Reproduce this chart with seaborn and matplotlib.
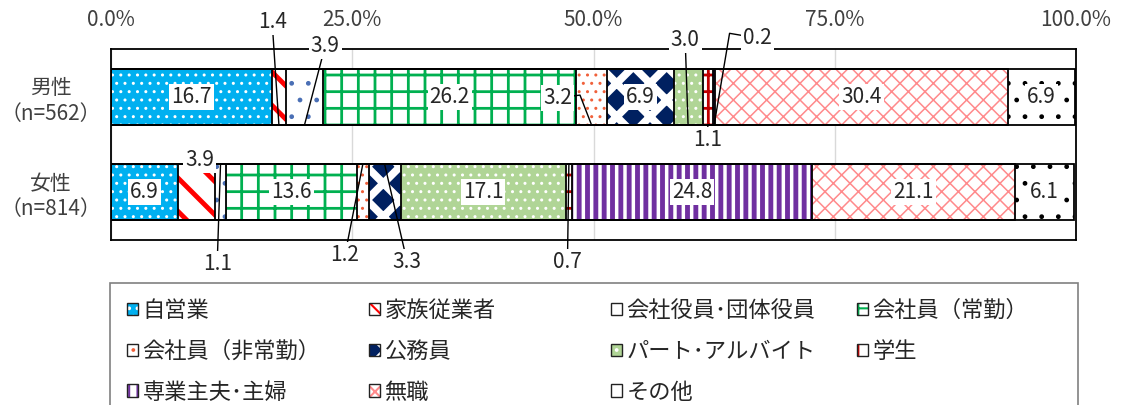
import matplotlib
matplotlib.use('Agg')
import matplotlib.pyplot as plt
import matplotlib.patches as mpatches
import seaborn as sns
import pandas as pd

# ---- data ----
groups = ['男性\n（n=562）', '女性\n（n=814）']
categories = ['自営業', '家族従業者', '会社役員･団体役員', '会社員（常勤）',
              '会社員（非常勤）', '公務員', 'パート･アルバイト', '学生',
              '専業主夫･主婦', '無職', 'その他']
male = [16.7, 1.4, 3.9, 26.2, 3.2, 6.9, 3.0, 1.1, 0.2, 30.4, 6.9]
female = [6.9, 3.9, 1.1, 13.6, 1.2, 3.3, 17.1, 0.7, 24.8, 21.1, 6.1]
tick_values = [0, 25, 50, 75, 100]
tick_labels = ['0.0%', '25.0%', '50.0%', '75.0%', '100.0%']

# ---- styles: face colour, hatch, hatch colour, hatch width ----
faces = ['#00B0F0', 'white', 'white', 'white', 'white', '#002060',
         '#B0D596', 'white', 'white', 'white', 'white']
hatches = ['..', '\\', '.', '+', '..', 'x', '..', '+', '||', 'xx', '.']
hatch_colors = ['white', '#FF0000', '#4A6FB5', '#00B050', '#F0603A', 'white',
                'white', '#C00000', '#7030A0', '#FF8A8C', 'black']
hatch_widths = [1.0, 3.5, 1.0, 2.0, 1.0, 5.5, 1.0, 2.0, 3.5, 1.1, 1.0]

# label placement for small segments: (group, category) -> text x, text y, leader end y, elbow
label_pos = {
    (0, 1): (16.7, -0.79, 0.295, None),
    (0, 2): (22.2, -0.54, 0.295, None),
    (0, 4): (46.3, 0.01, 0.295, (48.6, -0.02)),
    (0, 6): (59.5, -0.60, 0.295, None),
    (0, 7): (61.8, 0.45, 0.295, None),
    (0, 8): (67.0, -0.62, 0.295, (64.1, -0.67)),
    (1, 1): (9.2, 0.66, None, None),
    (1, 2): (11.0, 1.76, 0.705, None),
    (1, 4): (24.25, 1.66, 0.705, None),
    (1, 5): (30.7, 1.74, 0.705, None),
    (1, 7): (47.3, 1.74, 0.705, None),
}

rows = []
for g, vals in zip(groups, [male, female]):
    start = 0.0
    for c, v in zip(categories, vals):
        rows.append({'group': g, 'category': c, 'value': v,
                     'start': start, 'end': start + v})
        start += v
df = pd.DataFrame(rows)

sns.set_style('white')
plt.rcParams['font.family'] = ['Noto Sans CJK JP', 'DejaVu Sans']
plt.rcParams['hatch.linewidth'] = 1.5

fig = plt.figure(figsize=(11.22, 4.05), dpi=100)
ax = fig.add_axes([111 / 1122, 1 - 240 / 405, (1076 - 111) / 1122, (240 - 49) / 405])

BAR_W = 0.59
# filled, hatched bars (cumulative, widest first)
for i in reversed(range(len(categories))):
    sub = df[df['category'] == categories[i]]
    n0 = len(ax.patches)
    sns.barplot(data=sub, x='end', y='group', order=groups, orient='h',
                color=faces[i], saturation=1, width=BAR_W, errorbar=None, ax=ax)
    for p in ax.patches[n0:]:
        p.set_hatch(hatches[i])
        p.set_edgecolor(hatch_colors[i])
        p.set_linewidth(0)
        if hasattr(p, 'set_hatch_linewidth'):
            p.set_hatch_linewidth(hatch_widths[i])

# black outlines of segments
for i in range(len(categories)):
    sub = df[df['category'] == categories[i]]
    sns.barplot(data=sub, x='end', y='group', order=groups, orient='h',
                fill=False, color='black', linewidth=1.3, width=BAR_W,
                errorbar=None, ax=ax)

ax.set_xlim(0, 100)
ax.set_ylim(1.505, -0.505)
ax.set_xlabel('')
ax.set_ylabel('')
ax.xaxis.tick_top()
ax.set_xticks(tick_values)
ax.set_xticklabels(tick_labels)
ax.tick_params(axis='x', length=0, pad=13, labelsize=15, colors='#404040')
ax.tick_params(axis='y', length=0, pad=12, labelsize=15, colors='#404040')
for t in ax.get_yticklabels():
    t.set_multialignment('center')
    t.set_horizontalalignment('center')
    t.set_x(-0.045)
ax.set_axisbelow(True)
ax.xaxis.grid(True, color='#D9D9D9', linewidth=1)
for s in ax.spines.values():
    s.set_visible(True)
    s.set_color('black')
    s.set_linewidth(1.3)

# value labels
for _, r in df.iterrows():
    gi = groups.index(r['group'])
    ci = categories.index(r['category'])
    mid = (r['start'] + r['end']) / 2
    txt = f"{r['value']:.1f}"
    box = dict(facecolor='white', edgecolor='none', pad=1.5)
    if (gi, ci) in label_pos:
        tx, ty, ly, elbow = label_pos[(gi, ci)]
        if ly is not None:
            xs, ys = [tx], [ty]
            if elbow is not None:
                xs.append(elbow[0]); ys.append(elbow[1])
            xs.append(mid); ys.append(ly)
            ax.plot(xs, ys, color='black', linewidth=1, clip_on=False, zorder=4)
        ax.text(tx, ty, txt, ha='center', va='center', fontsize=15,
                bbox=box, zorder=5, clip_on=False)
    else:
        ax.text(mid, gi, txt, ha='center', va='center', fontsize=15,
                bbox=box, zorder=5)

# legend: four fixed-width columns inside a gray frame
frame = mpatches.Rectangle((110 / 1122, -0.06), 968 / 1122, (405 - 283) / 405 + 0.06,
                           transform=fig.transFigure, fill=False,
                           edgecolor='#808080', linewidth=1.2)
fig.patches.append(frame)
columns = [[0, 4, 8], [1, 5, 9], [2, 6, 10], [3, 7]]
col_x = [127, 369, 611, 857]
for col, x in zip(columns, col_x):
    handles = []
    for i in col:
        h1 = mpatches.Patch(facecolor=faces[i], hatch=hatches[i],
                            edgecolor=hatch_colors[i], linewidth=0)
        h2 = mpatches.Patch(fill=False, edgecolor='#222222', linewidth=1)
        handles.append((h1, h2))
    fig.legend(handles, [categories[i] for i in col], loc='upper left',
               bbox_to_anchor=(x / 1122, 1 - 299 / 405), frameon=False,
               borderaxespad=0, borderpad=0, fontsize=16,
               handlelength=0.5, handleheight=0.5, handletextpad=0.2,
               labelspacing=0.8)

fig.savefig('out.png', dpi=100)
